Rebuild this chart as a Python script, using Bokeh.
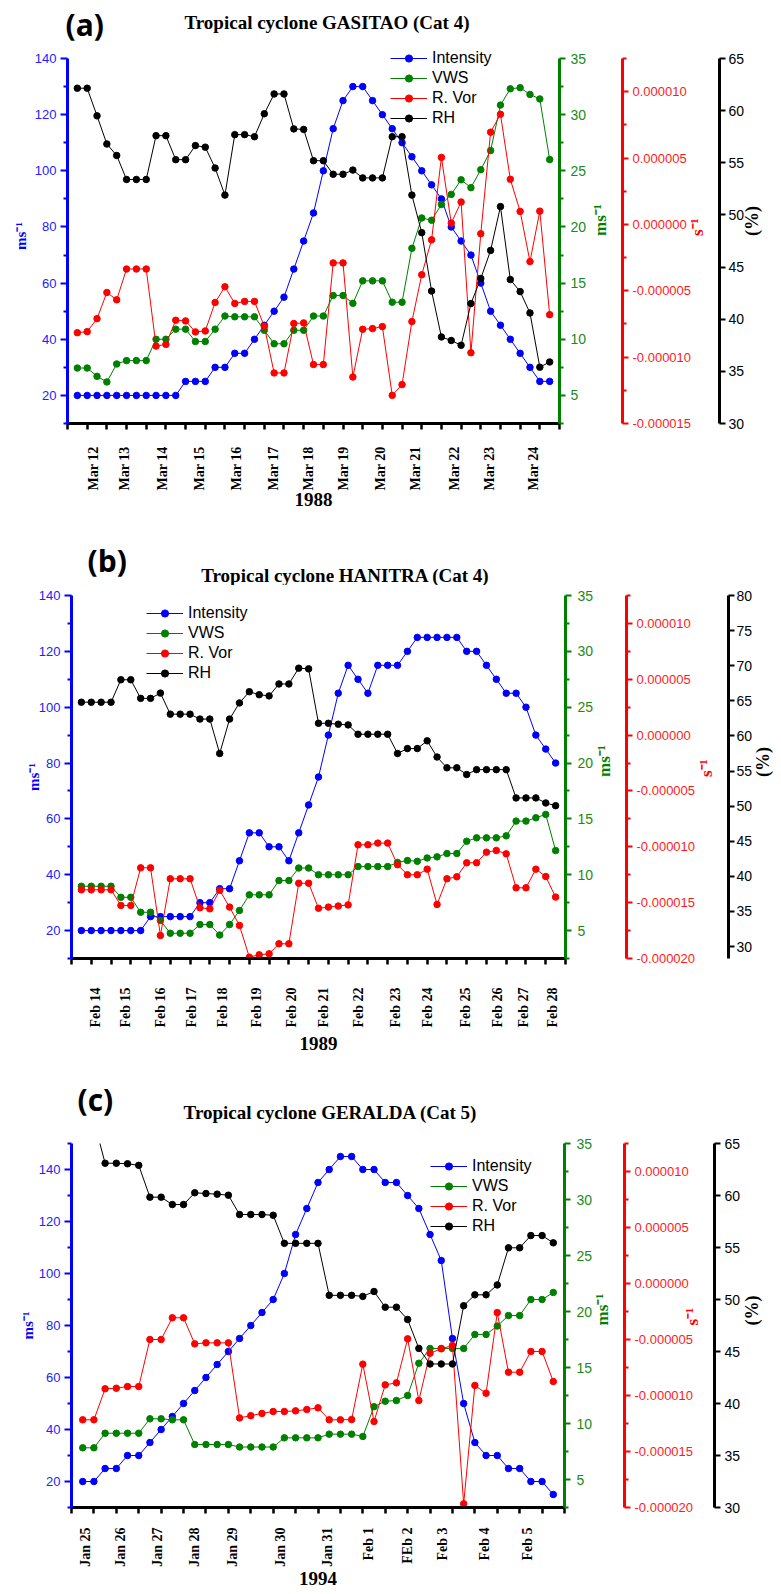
import math
from bokeh.plotting import figure
from bokeh.models import (Range1d, LinearAxis, FixedTicker, PrintfTickFormatter,
                          CustomJSTickFormatter, Label, Legend, LegendItem)
from bokeh.layouts import column
from bokeh.embed import file_html
from bokeh.resources import INLINE

# ---------------- data (6-hourly observations) ----------------
# (a) Tropical cyclone GASITAO, March 1988
a_intensity = [20, 20, 20, 20, 20, 20, 20, 20, 20, 20, 20, 25, 25, 25, 30, 30, 35, 35, 40, 45,
               50, 55, 65, 75, 85, 100, 115, 125, 130, 130, 125, 120, 115, 110, 105, 100, 95, 90,
               80, 75, 70, 60, 50, 45, 40, 35, 30, 25, 25]
a_vws = [7.44, 7.44, 6.7, 6.2, 7.8, 8.1, 8.1, 8.1, 10.0, 10.0, 10.9, 10.9, 9.8, 9.8, 10.9, 12.07,
         12.0, 12.0, 12.0, 10.8, 9.6, 9.6, 10.8, 10.8, 12.07, 12.07, 13.9, 13.9, 13.2, 15.2, 15.2,
         15.2, 13.3, 13.3, 18.1, 20.8, 20.6, 22.0, 22.9, 24.2, 23.5, 25.1, 26.8, 30.85, 32.3, 32.4,
         31.8, 31.4, 26.0]
a_rvor = [-8.16e-6, -8.08e-6, -7.1e-6, -5.13e-6, -5.68e-6, -3.36e-6, -3.36e-6, -3.36e-6, -9.17e-6,
          -9.04e-6, -7.22e-6, -7.27e-6, -8.1e-6, -8.03e-6, -5.88e-6, -4.7e-6, -5.96e-6, -5.8e-6,
          -5.8e-6, -7.68e-6, -11.19e-6, -11.19e-6, -7.47e-6, -7.42e-6, -10.56e-6, -10.56e-6,
          -2.9e-6, -2.9e-6, -11.5e-6, -7.9e-6, -7.85e-6, -7.7e-6, -12.88e-6, -12.07e-6, -7.32e-6,
          -3.79e-6, -1.16e-6, 5.05e-6, 0.1e-6, 1.69e-6, -9.67e-6, -0.7e-6, 6.95e-6, 8.3e-6, 3.4e-6,
          0.98e-6, -2.8e-6, 1.0e-6, -6.8e-6]
a_rh = [62.15, 62.15, 59.5, 56.8, 55.7, 53.4, 53.4, 53.4, 57.6, 57.6, 55.3, 55.3, 56.65, 56.5,
        54.5, 51.9, 57.7, 57.7, 57.5, 59.7, 61.6, 61.6, 58.25, 58.2, 55.2, 55.2, 53.9, 53.9, 54.3,
        53.55, 53.55, 53.55, 57.5, 57.5, 51.9, 48.3, 42.7, 38.3, 37.96, 37.5, 41.5, 43.9, 46.6,
        50.8, 43.8, 42.65, 40.6, 35.4, 35.9]
a_day_labels = ["Mar 12", "Mar 13", "Mar 14", "Mar 15", "Mar 16", "Mar 17", "Mar 18", "Mar 19",
                "Mar 20", "Mar 21", "Mar 22", "Mar 23", "Mar 24"]
a_day_pos = [1.64, 4.79, 8.65, 12.41, 16.17, 19.93, 23.49, 27.05, 30.8, 34.37, 38.33, 41.89, 46.36]

# (b) Tropical cyclone HANITRA, February 1989
b_intensity = [20, 20, 20, 20, 20, 20, 20, 25, 25, 25, 25, 25, 30, 30, 35, 35, 45, 55, 55, 50,
               50, 45, 55, 65, 75, 90, 105, 115, 110, 105, 115, 115, 115, 120, 125, 125, 125, 125,
               125, 120, 120, 115, 110, 105, 105, 100, 90, 85, 80]
b_vws = [8.97, 8.97, 8.97, 8.97, 7.98, 7.98, 6.64, 6.64, 5.9, 4.76, 4.76, 4.76, 5.54, 5.54, 4.6,
         5.54, 6.8, 8.2, 8.2, 8.2, 9.48, 9.48, 10.6, 10.6, 10.0, 10.0, 10.0, 10.0, 10.73, 10.73,
         10.73, 10.73, 11.1, 11.27, 11.2, 11.5, 11.6, 11.9, 11.9, 13.0, 13.3, 13.3, 13.3, 13.48,
         14.8, 14.8, 15.1, 15.4, 12.16]
b_rvor = [-13.85e-6, -13.85e-6, -13.85e-6, -13.85e-6, -15.25e-6, -15.25e-6, -11.88e-6, -11.88e-6,
          -17.94e-6, -12.86e-6, -12.86e-6, -12.86e-6, -15.46e-6, -15.55e-6, -13.9e-6, -15.4e-6,
          -17.04e-6, -19.88e-6, -19.67e-6, -19.58e-6, -18.68e-6, -18.68e-6, -13.26e-6, -13.26e-6,
          -15.5e-6, -15.4e-6, -15.3e-6, -15.2e-6, -9.82e-6, -9.82e-6, -9.67e-6, -9.67e-6,
          -11.6e-6, -12.5e-6, -12.5e-6, -12.0e-6, -15.16e-6, -12.86e-6, -12.68e-6, -11.43e-6,
          -11.43e-6, -10.48e-6, -10.33e-6, -10.63e-6, -13.67e-6, -13.67e-6, -12.0e-6, -12.66e-6,
          -14.5e-6]
b_rh = [64.8, 64.8, 64.8, 64.8, 68.0, 68.0, 65.35, 65.35, 66.1, 63.1, 63.1, 63.1, 62.4, 62.4,
        57.5, 62.4, 64.7, 66.3, 65.87, 65.7, 67.4, 67.4, 69.65, 69.55, 61.8, 61.8, 61.67, 61.57,
        60.24, 60.24, 60.24, 60.24, 57.5, 58.2, 58.2, 59.3, 57.0, 55.46, 55.46, 54.5, 55.2, 55.2,
        55.2, 55.2, 51.17, 51.17, 51.17, 50.45, 50.06]
b_day_labels = ["Feb 14", "Feb 15", "Feb 16", "Feb 17", "Feb 18", "Feb 19", "Feb 20", "Feb 21",
                "Feb 22", "Feb 23", "Feb 24", "Feb 25", "Feb 26", "Feb 27", "Feb 28"]
b_day_pos = [1.43, 4.47, 8.0, 11.15, 14.28, 17.72, 21.27, 24.5, 28.05, 31.79, 35.03, 38.88,
             42.12, 44.75, 47.68]

# (c) Tropical cyclone GERALDA, January-February 1994
c_intensity = [20, 20, 25, 25, 30, 30, 35, 40, 45, 50, 55, 60, 65, 70, 75, 80, 85, 90, 100, 115,
               125, 135, 140, 145, 145, 140, 140, 135, 135, 130, 125, 115, 105, 75, 50, 35, 30,
               30, 25, 25, 20, 20, 15]
c_vws = [7.83, 7.83, 9.13, 9.13, 9.13, 9.13, 10.42, 10.42, 10.33, 10.33, 8.125, 8.125, 8.125,
         8.125, 7.9, 7.9, 7.9, 7.9, 8.72, 8.72, 8.72, 8.72, 9.05, 9.05, 9.05, 8.84, 11.5, 11.99,
         12.05, 12.5, 15.38, 16.7, 16.7, 16.7, 16.7, 17.95, 17.95, 18.7, 19.64, 19.64, 21.07,
         21.07, 21.7]
c_rvor = [-12.17e-6, -12.17e-6, -9.4e-6, -9.35e-6, -9.2e-6, -9.2e-6, -5.0e-6, -5.0e-6, -3.06e-6,
          -3.06e-6, -5.39e-6, -5.3e-6, -5.3e-6, -5.3e-6, -12.0e-6, -11.8e-6, -11.6e-6, -11.43e-6,
          -11.43e-6, -11.37e-6, -11.25e-6, -11.1e-6, -12.17e-6, -12.17e-6, -12.15e-6, -7.2e-6,
          -12.32e-6, -9.05e-6, -8.87e-6, -4.94e-6, -10.45e-6, -6.22e-6, -5.83e-6, -5.54e-6,
          -19.67e-6, -9.1e-6, -9.8e-6, -2.6e-6, -7.92e-6, -7.92e-6, -6.07e-6, -6.07e-6, -8.75e-6]
c_rh = [67.2, 67.2, 63.1, 63.1, 63.05, 62.9, 59.84, 59.84, 59.13, 59.13, 60.26, 60.19, 60.13,
        60.03, 58.17, 58.17, 58.17, 58.1, 55.4, 55.4, 55.4, 55.4, 50.4, 50.4, 50.4, 50.3, 50.77,
        49.26, 49.26, 48.08, 45.3, 43.8, 43.8, 43.8, 49.4, 50.45, 50.45, 51.4, 54.97, 54.97,
        56.15, 56.15, 55.45]
c_day_labels = ["Jan 25", "Jan 26", "Jan 27", "Jan 28", "Jan 29", "Jan 30", "Jan 31", "Feb 1",
                "FEb 2", "Feb 3", "Feb 4", "Feb 5"]
c_day_pos = [0.25, 3.375, 6.68, 9.98, 13.375, 17.66, 21.86, 25.52, 29.0, 32.125, 35.875, 39.71]

series_names = ["Intensity", "VWS", "R. Vor", "RH"]

# axis extents and ticks
blue_span_ab, blue_span_c = (10, 140), (10, 150)
blue_ticks = [20, 40, 60, 80, 100, 120, 140]
blue_minor_ab = [10, 30, 50, 70, 90, 110, 130]
blue_minor_c = [10, 30, 50, 70, 90, 110, 130, 150]
vws_span = (2.5, 35)
vws_ticks = [5, 10, 15, 20, 25, 30, 35]
vws_minor = [2.5, 7.5, 12.5, 17.5, 22.5, 27.5, 32.5]
vor_span_a, vor_span_bc = (-15e-6, 12.5e-6), (-20e-6, 12.5e-6)
vor_ticks_a = [-15e-6, -10e-6, -5e-6, 0.0, 5e-6, 10e-6]
vor_minor_a = [-12.5e-6, -7.5e-6, -2.5e-6, 2.5e-6, 7.5e-6, 12.5e-6]
vor_ticks_bc = [-20e-6, -15e-6, -10e-6, -5e-6, 0.0, 5e-6, 10e-6]
vor_minor_bc = [-17.5e-6, -12.5e-6, -7.5e-6, -2.5e-6, 2.5e-6, 7.5e-6, 12.5e-6]
rh_span_ac, rh_span_b = (30, 65), (28.3, 80)
rh_ticks_ac = [30, 35, 40, 45, 50, 55, 60, 65]
rh_ticks_b = [30, 35, 40, 45, 50, 55, 60, 65, 70, 75, 80]

BLUE, GREEN, RED, BLACK = "#0000FF", "#008000", "#FF0000", "#000000"
BLUE_T, GREEN_T, RED_T = "#2222FF", "#1A8A1A", "#FF1A1A"
SERIF, SANS = "Liberation Serif", "Liberation Sans"


def no_align(p):
    try:
        p.frame_align = False
    except Exception:
        pass


def style_y(ax, color, tcolor, label, lsize, tick_out, minor_out, standoff, lstandoff, fsize="14px"):
    ax.axis_line_color = color
    ax.axis_line_width = 3
    ax.major_tick_line_color = color
    ax.major_tick_line_width = 2
    ax.major_tick_out = tick_out
    ax.major_tick_in = 0
    ax.minor_tick_line_color = color
    ax.minor_tick_line_width = 2
    ax.minor_tick_out = minor_out
    ax.minor_tick_in = 0
    ax.major_label_text_color = tcolor
    ax.major_label_text_font = SANS
    ax.major_label_text_font_size = fsize
    ax.major_label_standoff = standoff
    ax.axis_label = label
    ax.axis_label_text_color = color
    ax.axis_label_text_font = SERIF
    ax.axis_label_text_font_style = "bold"
    ax.axis_label_text_font_size = lsize
    ax.axis_label_standoff = lstandoff


def orient_up(ax):
    try:
        ax.axis_label_orientation = math.pi / 2
    except Exception:
        pass


def extend(span, factor):
    lo, hi = span
    return Range1d(lo, lo + (hi - lo) * factor)


def make_header(tag, title, h, tag_xy, title_xy, width=770):
    hp = figure(frame_width=width, frame_height=h, output_backend="svg", toolbar_location=None,
                title=None, x_range=Range1d(0, width), y_range=Range1d(0, h),
                x_axis_type=None, y_axis_type=None, min_border=0)
    no_align(hp)
    hp.outline_line_color = None
    hp.background_fill_color = "white"
    hp.add_layout(Label(x=title_xy[0], y=title_xy[1], text=title, text_font=SERIF,
                        text_font_style="bold", text_font_size="19px", text_color=BLACK,
                        text_align="center", text_baseline="middle"))
    hp.add_layout(Label(x=tag_xy[0], y=tag_xy[1], text=tag, text_font="Open Sans",
                        text_font_style="bold", text_font_size="30px", text_color=BLACK,
                        text_align="left", text_baseline="middle"))
    return hp


def make_panel(year, data, day_pos, day_labels, blue_span, blue_m,
               vor_span, vor_t, vor_m, rh_span, rh_t, L):
    intensity, vws, rvor, rh = data
    n = len(intensity)
    x = list(range(n))
    factor = L["fh"] / L["axh"]
    p = figure(frame_width=L["fw"], frame_height=L["fh"], output_backend="svg",
               toolbar_location=None, title=None,
               x_range=Range1d(-1, n), y_range=extend(blue_span, factor),
               min_border_left=L["bl"], min_border_top=L["bt"],
               min_border_bottom=L["bb"], min_border_right=0)
    no_align(p)
    p.outline_line_color = None
    p.xgrid.visible = False
    p.ygrid.visible = False
    p.background_fill_color = "white"

    # x axis: labelled day positions, 12-hourly tick marks
    xa = p.xaxis[0]
    xa.ticker = FixedTicker(ticks=day_pos, minor_ticks=list(range(-1, n + 1, 2)))
    xa.formatter = CustomJSTickFormatter(args=dict(pos=day_pos, labels=day_labels), code="""
        let best = 0;
        for (let k = 0; k < pos.length; k++) {
            if (Math.abs(pos[k] - tick) < Math.abs(pos[best] - tick)) best = k;
        }
        return labels[best];
    """)
    xa.axis_line_color = BLACK
    xa.axis_line_width = 3
    xa.major_tick_line_color = None
    xa.major_tick_out = 0
    xa.major_tick_in = 0
    xa.minor_tick_line_color = BLACK
    xa.minor_tick_line_width = 2.5
    xa.minor_tick_out = 6
    xa.minor_tick_in = 0
    xa.major_label_orientation = math.pi / 2
    xa.major_label_text_font = SERIF
    xa.major_label_text_font_style = "bold"
    xa.major_label_text_font_size = "14px"
    xa.major_label_text_color = BLACK
    xa.major_label_standoff = L["xs"]
    xa.axis_label = year
    xa.axis_label_text_font = SERIF
    xa.axis_label_text_font_style = "bold"
    xa.axis_label_text_font_size = "19px"
    xa.axis_label_text_color = BLACK
    xa.axis_label_standoff = L["xls"]

    # left (intensity) axis
    ya = p.yaxis[0]
    ya.ticker = FixedTicker(ticks=blue_ticks, minor_ticks=blue_m)
    ya.bounds = blue_span
    style_y(ya, BLUE, BLUE_T, "ms⁻¹", "15px", 7, 4, 4, L["bls"], fsize="13px")

    p.extra_y_ranges = {"vws": extend(vws_span, factor), "vor": extend(vor_span, factor),
                        "rh": extend(rh_span, factor)}

    ga = LinearAxis(y_range_name="vws", ticker=FixedTicker(ticks=vws_ticks, minor_ticks=vws_minor),
                    bounds=vws_span)
    style_y(ga, GREEN, GREEN_T, "ms⁻¹", "17px", 6, 4, L["gs"], L["gls"])
    orient_up(ga)
    p.add_layout(ga, "right")

    ra = LinearAxis(y_range_name="vor", ticker=FixedTicker(ticks=vor_t, minor_ticks=vor_m),
                    formatter=PrintfTickFormatter(format="%.6f"), bounds=vor_span)
    style_y(ra, RED, RED_T, "s⁻¹", "17px", 6, 4, L["rs"], L["rls"], fsize="13px")
    orient_up(ra)
    p.add_layout(ra, "right")

    ka = LinearAxis(y_range_name="rh", ticker=FixedTicker(ticks=rh_t, minor_ticks=[]),
                    bounds=rh_span)
    style_y(ka, BLACK, BLACK, "(%)", "18px", 6, 0, L["ks"], L["kls"])
    orient_up(ka)
    p.add_layout(ka, "right")

    items = []
    for name, ys, col, rn in zip(series_names, [intensity, vws, rvor, rh],
                                 [BLUE, GREEN, RED, BLACK], [None, "vws", "vor", "rh"]):
        kw = {} if rn is None else {"y_range_name": rn}
        ln = p.line(x, ys, line_color=col, line_width=1, **kw)
        sc = p.scatter(x, ys, size=6.5, fill_color=col, line_color=col, **kw)
        items.append(LegendItem(label=name, renderers=[ln, sc]))

    leg = Legend(items=items, location=L["leg"], orientation="vertical",
                 background_fill_alpha=0, border_line_color=None, padding=0, margin=0,
                 spacing=2, label_height=18, glyph_height=18, glyph_width=37,
                 label_standoff=5, label_text_font=SANS, label_text_font_size="16px",
                 label_text_color=BLACK)
    p.add_layout(leg)
    return p


# page layout (no page margin): header strips hold the panel tag and title
LA = dict(fw=492, fh=375, axh=365, bl=67, bt=0, bb=107, xs=17, xls=0, bls=3,
          gs=5, gls=11, rs=4, rls=3, ks=3, kls=5, leg=(323, 296))
LB = dict(fw=494, fh=363, axh=363, bl=71, bt=10, bb=107, xs=23, xls=6, bls=-6,
          gs=6, gls=8, rs=4, rls=8, ks=2, kls=8, leg=(75, 276))
LC = dict(fw=493, fh=364, axh=364, bl=71, bt=10, bb=83, xs=14, xls=2, bls=0,
          gs=6, gls=7, rs=4, rls=-4, ks=4, kls=9, leg=(359, 272))

ha = make_header("(a)", "Tropical cyclone GASITAO (Cat 4)", 48, (65, 24.5), (326.5, 26))
pa = make_panel("1988", (a_intensity, a_vws, a_rvor, a_rh), a_day_pos, a_day_labels,
                blue_span_ab, blue_minor_ab, vor_span_a, vor_ticks_a, vor_minor_a,
                rh_span_ac, rh_ticks_ac, LA)
hb = make_header("(b)", "Tropical cyclone HANITRA (Cat 4)", 55, (87, 25), (345, 10))
pb = make_panel("1989", (b_intensity, b_vws, b_rvor, b_rh), b_day_pos, b_day_labels,
                blue_span_ab, blue_minor_ab, vor_span_bc, vor_ticks_bc, vor_minor_bc,
                rh_span_b, rh_ticks_b, LB)
hc = make_header("(c)", "Tropical cyclone GERALDA (Cat 5)", 68, (77, 34.5), (330, 21))
pc = make_panel("1994", (c_intensity, c_vws, c_rvor, c_rh), c_day_pos, c_day_labels,
                blue_span_c, blue_minor_c, vor_span_bc, vor_ticks_bc, vor_minor_bc,
                rh_span_ac, rh_ticks_ac, LC)

layout = column(ha, pa, hb, pb, hc, pc, spacing=0)
open("out.html", "w").write(file_html(layout, INLINE))
